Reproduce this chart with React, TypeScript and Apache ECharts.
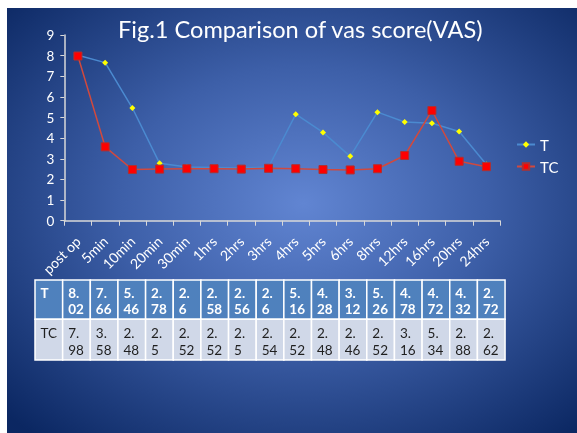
import React, { useEffect, useRef } from "react";
import * as echarts from "echarts";

const categories = ["post op", "5min", "10min", "20min", "30min", "1hrs", "2hrs", "3hrs", "4hrs", "5hrs", "6hrs", "8hrs", "12hrs", "16hrs", "20hrs", "24hrs"];
const seriesT = [8.02, 7.66, 5.46, 2.78, 2.6, 2.58, 2.56, 2.6, 5.16, 4.28, 3.12, 5.26, 4.78, 4.72, 4.32, 2.72];
const seriesTC = [7.98, 3.58, 2.48, 2.5, 2.52, 2.52, 2.5, 2.54, 2.52, 2.48, 2.46, 2.52, 3.16, 5.34, 2.88, 2.62];
const yTicks = [0, 1, 2, 3, 4, 5, 6, 7, 8, 9];
const FONT = "Lato, 'Liberation Sans', sans-serif";

function buildTable(): any[] {
  const left = 28;
  const colW = 27.65;
  const rows = [
    { name: "T", values: seriesT, top: 272, h: 39.3, fill: "#4f81bd", color: "#ffffff", weight: "bold", l1: 12.7 },
    { name: "TC", values: seriesTC, top: 311.3, h: 40.7, fill: "#d0d8e8", color: "#1f1f1f", weight: "normal", l1: 14 },
  ];
  const els: any[] = [];
  rows.forEach((r) => {
    const cells = [r.name, ...r.values.map((v) => String(v))];
    cells.forEach((txt, i) => {
      const x = left + i * colW;
      els.push({
        type: "rect",
        shape: { x, y: r.top, width: colW, height: r.h },
        style: { fill: r.fill, stroke: "#ffffff", lineWidth: 1.5 },
      });
      let lines: string[];
      if (i === 0) lines = [txt];
      else {
        const dot = txt.indexOf(".");
        lines = dot >= 0 ? [txt.slice(0, dot + 1), txt.slice(dot + 1)] : [txt];
      }
      lines.forEach((ln, k) => {
        els.push({
          type: "text",
          x: x + 5.5,
          y: r.top + r.l1 + k * 16.3,
          style: {
            text: ln,
            fill: r.color,
            font: `${r.weight} 13.5px ${FONT}`,
            textAlign: "left",
            textVerticalAlign: "middle",
          },
        });
      });
    });
  });
  return els;
}

export default function App() {
  const ref = useRef<HTMLDivElement>(null);
  useEffect(() => {
    if (!ref.current) return;
    const chart = echarts.init(ref.current, undefined, { renderer: "svg" });
    chart.setOption({
      animation: false,
      backgroundColor: new echarts.graphic.RadialGradient(0.52, 0.46, 0.72, [
        { offset: 0, color: "#6185d2" },
        { offset: 0.45, color: "#3d5fa8" },
        { offset: 1, color: "#0b2762" },
      ]),
      title: {
        text: "Fig.1 Comparison of vas score(VAS)",
        left: 106,
        top: 4,
        textStyle: { color: "#ffffff", fontFamily: FONT, fontSize: 23.6, fontWeight: "normal" },
      },
      legend: {
        orient: "vertical",
        left: 504,
        top: 124,
        itemWidth: 18,
        itemHeight: 8,
        itemGap: 7,
        textStyle: { color: "#ffffff", fontFamily: FONT, fontSize: 15 },
        data: ["T", "TC"],
      },
      grid: { left: 57.3, right: 77, top: 27, bottom: 212.3, containLabel: false },
      xAxis: {
        type: "category",
        data: categories,
        boundaryGap: true,
        axisLine: { lineStyle: { color: "#d9d9d9", width: 1.5 } },
        axisTick: { show: true, length: 5, lineStyle: { color: "#d9d9d9" }, alignWithLabel: false },
        axisLabel: { color: "#ffffff", rotate: 45, fontFamily: FONT, fontSize: 14, margin: 18, interval: 0 },
      },
      yAxis: {
        type: "value",
        min: yTicks[0],
        max: yTicks[yTicks.length - 1],
        interval: 1,
        splitLine: { show: false },
        axisLine: { show: true, lineStyle: { color: "#d9d9d9", width: 1.5 } },
        axisTick: { show: true, length: 4, lineStyle: { color: "#d9d9d9" } },
        axisLabel: { color: "#ffffff", fontFamily: FONT, fontSize: 13.5, margin: 10 },
      },
      series: [
        {
          name: "T",
          type: "line",
          data: seriesT,
          symbol: "diamond",
          symbolSize: 6,
          lineStyle: { color: "#4b8ad0", width: 1.5 },
          itemStyle: { color: "#ffff00", borderWidth: 0 },
        },
        {
          name: "TC",
          type: "line",
          data: seriesTC,
          symbol: "rect",
          symbolSize: 8,
          lineStyle: { color: "#d0493e", width: 1.5 },
          itemStyle: { color: "#ff0000", borderColor: "#b03030", borderWidth: 1 },
        },
      ],
      graphic: buildTable(),
    });
    return () => chart.dispose();
  }, []);
  return (
    <div
      ref={ref}
      style={{ position: "fixed", left: 7, top: 8, width: 570, height: 425 }}
    />
  );
}
